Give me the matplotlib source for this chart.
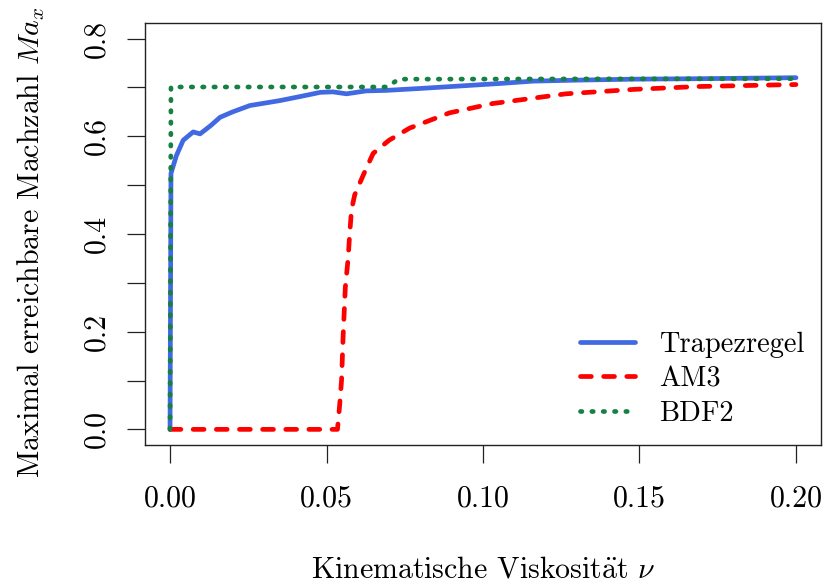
import numpy as np
import matplotlib
matplotlib.use("Agg")
import matplotlib.pyplot as plt

# Computer-Modern look, like a LaTeX-rendered R plot
plt.rcParams['font.family'] = ['cmr10', 'DejaVu Serif']
plt.rcParams['mathtext.fontset'] = 'cm'
plt.rcParams['axes.formatter.use_mathtext'] = True
plt.rcParams['font.size'] = 21.5

# -------------------- Data --------------------
nu_trapez = [0.0, 0.0003, 0.002, 0.0042, 0.0074, 0.0096, 0.013, 0.016, 0.020, 0.0255,
             0.035, 0.042, 0.048, 0.052, 0.0564, 0.0627, 0.069, 0.08, 0.09, 0.105,
             0.116, 0.13, 0.148, 0.17, 0.2]
ma_trapez = [0.0, 0.524, 0.56, 0.592, 0.609, 0.605, 0.622, 0.639, 0.650, 0.663,
             0.673, 0.682, 0.690, 0.691, 0.687, 0.693, 0.694, 0.698, 0.702, 0.708,
             0.713, 0.715, 0.717, 0.718, 0.72]

nu_am3 = [0.0, 0.0535, 0.0542, 0.0548, 0.0553, 0.056, 0.0569, 0.0574, 0.058, 0.059,
          0.0617, 0.0649, 0.070, 0.0766, 0.0787, 0.0893, 0.103, 0.1265, 0.148,
          0.169, 0.1956, 0.2]
ma_am3 = [0.0, 0.0, 0.05, 0.10, 0.19, 0.29, 0.35, 0.40, 0.45, 0.48,
          0.52, 0.565, 0.592, 0.617, 0.622, 0.648, 0.667, 0.687, 0.696,
          0.702, 0.7055, 0.706]

nu_bdf2 = [0.0, 0.0003, 0.069, 0.071, 0.073, 0.2]
ma_bdf2 = [0.0, 0.701, 0.701, 0.708, 0.717, 0.718]

x_ticks = [0.0, 0.05, 0.10, 0.15, 0.20]
x_labels = ['0.00', '0.05', '0.10', '0.15', '0.20']
y_ticks = [0.0, 0.1, 0.2, 0.3, 0.4, 0.5, 0.6, 0.7, 0.8]
y_labels = ['0.0', '', '0.2', '', '0.4', '', '0.6', '', '0.8']

# -------------------- Plot --------------------
fig = plt.figure(figsize=(8.25, 5.88), dpi=100)
ax = fig.add_axes([145 / 825, 1 - 445 / 588, 676 / 825, 422 / 588])

lw = 3.4
ax.plot(nu_trapez, ma_trapez, color='#4169E1', lw=lw, solid_capstyle='round',
        label='Trapezregel')
ax.plot(nu_am3, ma_am3, color='#FF0000', lw=lw, linestyle=(0, (2.3, 2.6)),
        dash_capstyle='round', label='AM3')
ax.plot(nu_bdf2, ma_bdf2, color='#178043', lw=lw, linestyle=(0, (0.3, 2.1)),
        dash_capstyle='round', label='BDF2')

ax.set_xlim(-0.008, 0.208)
ax.set_ylim(-0.032, 0.832)

ax.set_xticks(x_ticks)
ax.set_xticklabels(x_labels)
ax.set_yticks(y_ticks)
ax.set_yticklabels(y_labels, rotation=90, va='center')
ax.tick_params(direction='out', length=13, width=0.9, color='#222222', pad=16)
ax.tick_params(axis='y', pad=12)

for sp in ax.spines.values():
    sp.set_linewidth(1.0)
    sp.set_color('#222222')

ax.set_xlabel(r'Kinematische Viskosit$\ddot{\mathrm{a}}$t $\nu$', labelpad=31)
ax.set_ylabel(r'Maximal erreichbare Machzahl $Ma_x$', labelpad=26, y=0.48)

ax.legend(loc='lower right', frameon=False, fontsize=20.5, handlelength=1.95,
          handletextpad=0.85, labelspacing=0.3, borderaxespad=0.0,
          bbox_to_anchor=(0.993, 0.015))

fig.savefig('out.png', dpi=100)
